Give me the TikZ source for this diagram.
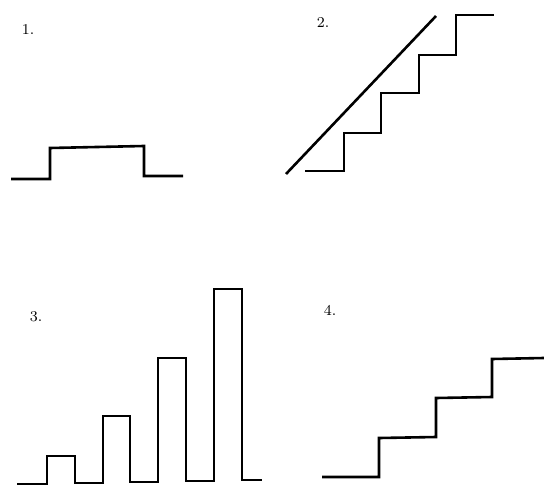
\documentclass[tikz,border=0pt]{standalone}
\usetikzlibrary{positioning}
\tikzstyle{signal} = [draw, line width=1.3pt, line join=miter]
\tikzstyle{panellabel} = [font=\fontsize{7.5}{9}\selectfont, inner sep=0pt]

\begin{document}
\begin{tikzpicture}[x=0.5pt, y=-0.5pt]
    \useasboundingbox (0,0) rectangle (544,486);

    \foreach \pos/\name/\label in {{(28,30)/one/1.}, {(323,23)/two/2.}, {(36,317)/three/3.}, {(330,310)/four/4.}}
        \node[panellabel] (\name) at \pos {\label};

    % 1. single step up and down
    \path[signal] (11,179) -- (50,179) -- (50,148) -- (144,146) -- (144,176) -- (183,176);

    % 2. staircase under a ramp
    \path[signal] (286,174) -- (436,16);
    \path[signal] (305,171) -- (344,171) -- (344,133) -- (381,133) -- (381,93) -- (419,93)
        -- (419,55) -- (456,55) -- (456,15) -- (494,15);

    % 3. growing pulses
    \path[signal] (17,484) -- (47,484) -- (47,456) -- (75,456) -- (75,483) -- (103,483)
        -- (103,416) -- (130,416) -- (130,482) -- (158,482) -- (158,358) -- (186,358)
        -- (186,481) -- (214,481) -- (214,289) -- (242,289) -- (242,480) -- (262,480);

    % 4. three steps
    \path[signal] (322,477) -- (379,477) -- (379,438) -- (436,437) -- (436,398) -- (492,397)
        -- (492,359) -- (544,358);
\end{tikzpicture}
\end{document}
